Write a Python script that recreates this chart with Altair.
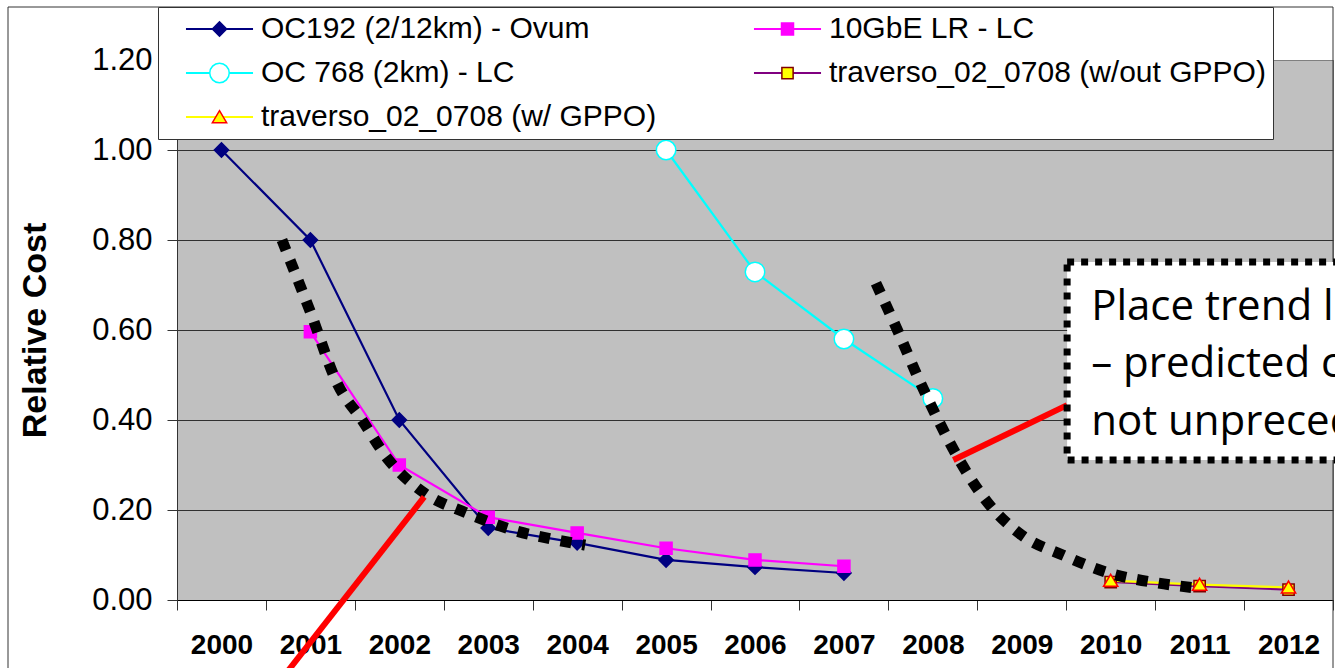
import altair as alt
import pandas as pd

# ---------------- data ----------------
series_names = [
    "OC192 (2/12km) - Ovum",
    "10GbE LR - LC",
    "OC 768 (2km) - LC",
    "traverso_02_0708 (w/out GPPO)",
    "traverso_02_0708 (w/ GPPO)",
]
marker_keys = ["a:", "b:", "c:", "d:", "e:"]  # keep legend order for the marker legend
years_oc192 = [2000, 2001, 2002, 2003, 2004, 2005, 2006, 2007]
cost_oc192 = [1.00, 0.80, 0.40, 0.16, 0.127, 0.089, 0.073, 0.060]
years_10gbe = [2001, 2002, 2003, 2004, 2005, 2006, 2007]
cost_10gbe = [0.596, 0.30, 0.184, 0.149, 0.115, 0.089, 0.075]
years_oc768 = [2005, 2006, 2007, 2008]
cost_oc768 = [1.00, 0.729, 0.58, 0.448]
years_trav = [2010, 2011, 2012]
cost_trav_wout = [0.040, 0.031, 0.023]
cost_trav_w = [0.043, 0.034, 0.028]

line_colors = ["#000080", "#FF00FF", "#00FFFF", "#800080", "#FFFF00"]
marker_fill = ["#000080", "#FF00FF", "#FFFFFF", "#FFFF00", "#FFFF00"]
marker_stroke = ["#000080", "#FF00FF", "#00FFFF", "#800000", "#FF0000"]
marker_shapes = [
    "M-0.95,0L0,-0.95L0.95,0L0,0.95Z",
    "M-0.8,-0.8L0.8,-0.8L0.8,0.8L-0.8,0.8Z",
    "M-1.3,0A1.3,1.3 0 1,0 1.3,0A1.3,1.3 0 1,0 -1.3,0Z",
    "M-0.75,-0.75L0.75,-0.75L0.75,0.75L-0.75,0.75Z",
    "M0,-0.85L0.95,0.75L-0.95,0.75Z",
]

# hand-drawn dotted trend curves (year, relative cost)
trend1_x = [2000.68, 2001.0, 2001.31, 2001.58, 2001.88, 2002.28, 2002.76, 2003.27, 2003.78, 2004.09]
trend1_y = [0.800, 0.64, 0.478, 0.40, 0.311, 0.238, 0.193, 0.156, 0.133, 0.122]
trend2_x = [2007.36, 2007.61, 2007.83, 2008.06, 2008.31, 2008.61, 2009.0, 2009.46, 2009.98, 2010.52, 2010.95]
trend2_y = [0.704, 0.596, 0.496, 0.40, 0.307, 0.218, 0.144, 0.10, 0.06, 0.038, 0.027]

# red pointer lines
red1_x = [2002.28, 2000.58]
red1_y = [0.229, -0.20]
red2_x = [2008.23, 2009.51]
red2_y = [0.311, 0.433]

# annotation box
box_x = [2009.51]
box_x2 = [2014.5]
box_y = [0.751]
box_y2 = [0.311]
note_lines = ["Place trend lines", "\u2013 predicted costs", "not unprecedented"]
note_x = [2009.78, 2009.78, 2009.78]
note_y = [0.622, 0.496, 0.367]

# ---------------- tables ----------------
rows = []
for key, name, yrs, vals in [
    (marker_keys[0], series_names[0], years_oc192, cost_oc192),
    (marker_keys[1], series_names[1], years_10gbe, cost_10gbe),
    (marker_keys[2], series_names[2], years_oc768, cost_oc768),
    (marker_keys[3], series_names[3], years_trav, cost_trav_wout),
    (marker_keys[4], series_names[4], years_trav, cost_trav_w),
]:
    for yv, cv in zip(yrs, vals):
        rows.append({"x": yv, "y": cv, "series": name, "marker": key + name})
df = pd.DataFrame(rows)

trend_rows = []
for g, xs_, ys_ in [("a", trend1_x, trend1_y), ("b", trend2_x, trend2_y)]:
    for i, (xv, yv) in enumerate(zip(xs_, ys_)):
        trend_rows.append({"x": xv, "y": yv, "g": g, "o": i})
trend_df = pd.DataFrame(trend_rows)

red_rows = []
for g, xs_, ys_ in [("a", red1_x, red1_y), ("b", red2_x, red2_y)]:
    for i, (xv, yv) in enumerate(zip(xs_, ys_)):
        red_rows.append({"x": xv, "y": yv, "g": g, "o": i})
red_df = pd.DataFrame(red_rows)

box_df = pd.DataFrame({"x": box_x, "x2": box_x2, "y": box_y, "y2": box_y2})
note_df = pd.DataFrame({"x": note_x, "y": note_y, "t": note_lines})

# ---------------- encodings ----------------
FONT = "Liberation Sans"
x_axis = alt.Axis(
    values=[1999.5 + i for i in range(14)],
    labelExpr="datum.value < 2012 ? format(datum.value + 0.5, 'd') : ''",
    labelOffset=44.46,
    labelFlush=False,
    labelOverlap=False,
    labelFont=FONT,
    labelFontSize=28,
    labelFontWeight="bold",
    labelColor="black",
    labelPadding=21,
    tickSize=10,
    tickColor="#333333",
    domainColor="black",
    grid=False,
    title=None,
)
y_axis = alt.Axis(
    values=[0.0, 0.2, 0.4, 0.6, 0.8, 1.0, 1.2],
    format=".2f",
    labelFont=FONT,
    labelFontSize=31,
    labelColor="black",
    labelPadding=15,
    tickSize=10,
    tickColor="#333333",
    domainColor="#333333",
    grid=True,
    gridColor=alt.condition("datum.value >= 1.2", alt.value("#808080"), alt.value("#303030")),
    gridWidth=1,
    title="Relative Cost",
    titleFont=FONT,
    titleFontSize=34,
    titleFontWeight="bold",
    titleColor="black",
    titlePadding=39,
)
xs = alt.Scale(domain=[1999.5, 2012.5], nice=False, zero=False)
ys = alt.Scale(domain=[0, 1.2], nice=False, zero=False)


def X(f="x"):
    return alt.X(f + ":Q", scale=xs, axis=x_axis, title=None)


def Y(f="y"):
    return alt.Y(f + ":Q", scale=ys, axis=y_axis, title="Relative Cost")


common_leg = dict(
    orient="none", legendX=-19, legendY=-53, columns=2, direction="horizontal", title=None,
    symbolSize=225, symbolOffset=39.5, labelOffset=26.5,
    columnPadding=76, rowPadding=14, padding=7,
    labelFont=FONT, labelFontSize=30, labelColor="black", labelLimit=1000,
)
legend_lines = alt.Legend(
    symbolType="M-4.47,0L4.47,0", symbolStrokeWidth=2,
    fillColor="white", strokeColor="#333333", **common_leg
)
legend_marks = alt.Legend(
    symbolStrokeWidth=1.5, labelOpacity=0, symbolOpacity=1,
    symbolFillColor="white", symbolStrokeColor="black",
    labelExpr="substring(datum.label, 2)",
    **common_leg
)

frame = alt.Chart(pd.DataFrame({"k": [0]})).mark_rect(
    fill="transparent", stroke="#333333", strokeWidth=1
).encode(x=alt.value(-169), x2=alt.value(1156), y=alt.value(-53), y2=alt.value(720))

lines = alt.Chart(df).mark_line(strokeWidth=2.2).encode(
    x=X(), y=Y(),
    color=alt.Color("series:N", sort=series_names,
                    scale=alt.Scale(range=line_colors), legend=legend_lines),
)
points = alt.Chart(df).mark_point(filled=True, opacity=1, size=225, strokeWidth=1.5).encode(
    x=X(), y=Y(),
    shape=alt.Shape("marker:N", scale=alt.Scale(range=marker_shapes), legend=legend_marks),
    fill=alt.Fill("marker:N", scale=alt.Scale(range=marker_fill), legend=legend_marks),
    stroke=alt.Stroke("marker:N", scale=alt.Scale(range=marker_stroke), legend=legend_marks),
)
trend = alt.Chart(trend_df).mark_line(
    color="black", strokeWidth=11, strokeDash=[11, 11], strokeCap="butt", interpolate="monotone"
).encode(x=X(), y=Y(), detail="g:N", order="o:Q")
red = alt.Chart(red_df).mark_line(color="#FF0000", strokeWidth=6).encode(
    x=X(), y=Y(), detail="g:N", order="o:Q"
)
box = alt.Chart(box_df).mark_rect(
    fill="white", stroke="black", strokeWidth=7, strokeDash=[7, 7]
).encode(x=X(), x2="x2:Q", y=Y(), y2="y2:Q")
note = alt.Chart(note_df).mark_text(
    align="left", baseline="alphabetic", font="Open Sans", fontSize=42, color="black"
).encode(x=X(), y=Y(), text="t:N")

chart = alt.layer(frame, lines, points, trend, red, box, note).properties(
    width=1156, height=540,
    padding={"left": 177, "top": 60, "right": 2, "bottom": 68},
    autosize=alt.AutoSizeParams(type="none"),
    background="white",
).configure_view(fill="#C0C0C0", stroke="#808080", strokeWidth=1)

chart.save("out.html", embed_options={"renderer": "svg", "actions": False})
